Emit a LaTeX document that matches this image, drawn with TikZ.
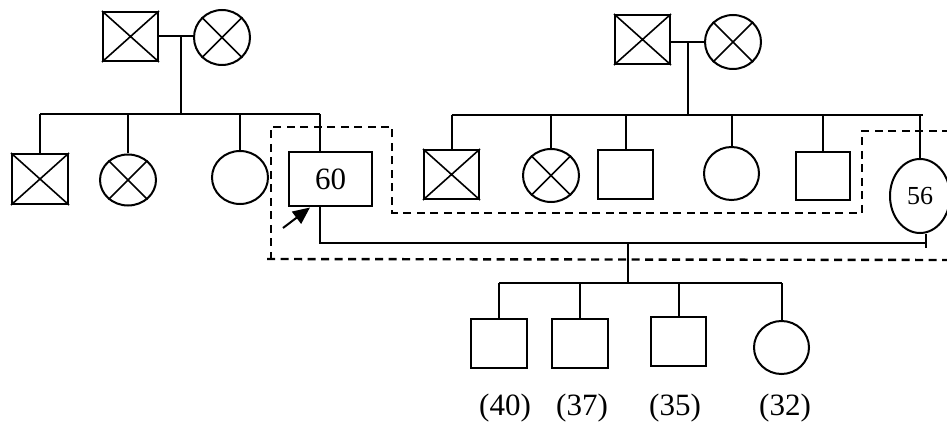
\documentclass[tikz,border=0pt]{standalone}
\usepackage{fontspec}
\setmainfont{Liberation Serif}
\usetikzlibrary{shapes.geometric,arrows.meta,calc}
\begin{document}
\begin{tikzpicture}[x=1pt,y=-1pt,line width=2pt,
  male/.style={draw,rectangle,inner sep=0pt,minimum width=55pt,minimum height=49pt},
  female/.style={draw,ellipse,inner sep=0pt,minimum width=56pt,minimum height=53pt},
  dashbox/.style={line width=2.4pt,dash pattern=on 8pt off 5.5pt},
  lbl/.style={inner sep=0pt,font=\fontsize{31}{32}\selectfont},
  arr/.style={-{Stealth[length=17pt,width=15pt,inset=0pt]},line width=2pt}]
\useasboundingbox (0,0) rectangle (947,430);

% left grandparents
\node[male] (gf1) at (130.5,36.5) {};
\node[female,minimum height=55pt] (gm1) at (222,37.5) {};
\coordinate (sibL) at (181,114);
\draw (gf1.east) -- (gf1.east -| gm1.west);
\draw (sibL |- gf1.east) -- (sibL);

% left children
\node[male,minimum width=56pt,minimum height=50pt] (c1) at (40,179) {};
\node[female,minimum height=51pt] (c2) at (128,180) {};
\node[female] (c3) at (240,177.5) {};
\node[draw,rectangle,inner sep=0pt,minimum width=83pt,minimum height=54pt,
      lbl] (p60) at (330.5,179.5) {60};
\coordinate (a60) at (319.5,0);
\draw (c1.north |- sibL) -- (a60 |- sibL);
\foreach \n in {c1,c2,c3}
  \draw (\n.north |- sibL) -- (\n.north);
\draw (p60.north -| a60) -- (a60 |- sibL);

% right grandparents
\node[male] (gf2) at (642.5,39.5) {};
\node[female,minimum height=54pt] (gm2) at (733,42) {};
\coordinate (sibR) at (688,115);
\draw (gf2.east |- gm2.west) -- (gm2.west);
\draw (sibR |- gm2.west) -- (sibR);

% right children
\node[male] (d1) at (451.5,174.5) {};
\node[female] (d2) at (551,175.5) {};
\node[male] (d3) at (625.5,174.5) {};
\node[female,minimum width=55pt] (d4) at (731.5,173.5) {};
\node[male,minimum width=54pt,minimum height=48pt] (d5) at (823,176) {};
\node[draw,ellipse,inner sep=0pt,minimum width=60pt,minimum height=74pt,
      font=\fontsize{26}{27}\selectfont] (p56) at (920,196) {56};
\draw (d1.north |- sibR) -- ($(p56.north |- sibR)+(3,0)$);
\foreach \n in {d1,d2,d3,d4,d5,p56}
  \draw (\n.north |- sibR) -- (\n.north);

% crosses (affected)
\foreach \n in {gf1,c1,gf2,d1}
  \draw[line width=1.6pt] (\n.north west) -- (\n.south east) (\n.north east) -- (\n.south west);
\foreach \n in {gm1,c2,gm2,d2}
  \draw[line width=1.6pt] (\n.45) -- (\n.225) (\n.135) -- (\n.315);

% marriage of 60 and 56
\coordinate (mar) at (628,243);
\coordinate (a56) at (926,0);
\draw (p60.south -| a60) -- (a60 |- mar) -- (a56 |- mar);
\draw (p56.south -| a56) -- ($(a56 |- mar)+(0,5)$);

% grandchildren
\coordinate (sibG) at (628,283);
\draw (mar) -- (sibG);
\node[male,minimum width=56pt] (e1) at (499,343.5) {};
\node[male,minimum width=56pt] (e2) at (580,343.5) {};
\node[male] (e3) at (678.5,341.5) {};
\node[female,minimum width=55pt] (e4) at (781.5,347.5) {};
\draw (e1.north |- sibG) -- (e4.north |- sibG);
\foreach \n in {e1,e2,e3,e4}
  \draw (\n.north |- sibG) -- (\n.north);

\node[lbl] (l1) at (505,408) {(40)};
\node[lbl] (l2) at (582,408) {(37)};
\node[lbl] (l3) at (675,408) {(35)};
\node[lbl] (l4) at (785,408) {(32)};

% proband arrow
\coordinate (arrS) at (283,228);
\draw[arr] (arrS) -- ($(p60.south west)+(22,0)$);

% dashed outline
\draw[dashbox] (950,131) -- (862,131) -- (862,213) -- (392,213) -- (392,127)
  -- (271,127) -- (271,259);
\draw[dashbox] (267,259) -- (950,260);
\end{tikzpicture}
\end{document}
